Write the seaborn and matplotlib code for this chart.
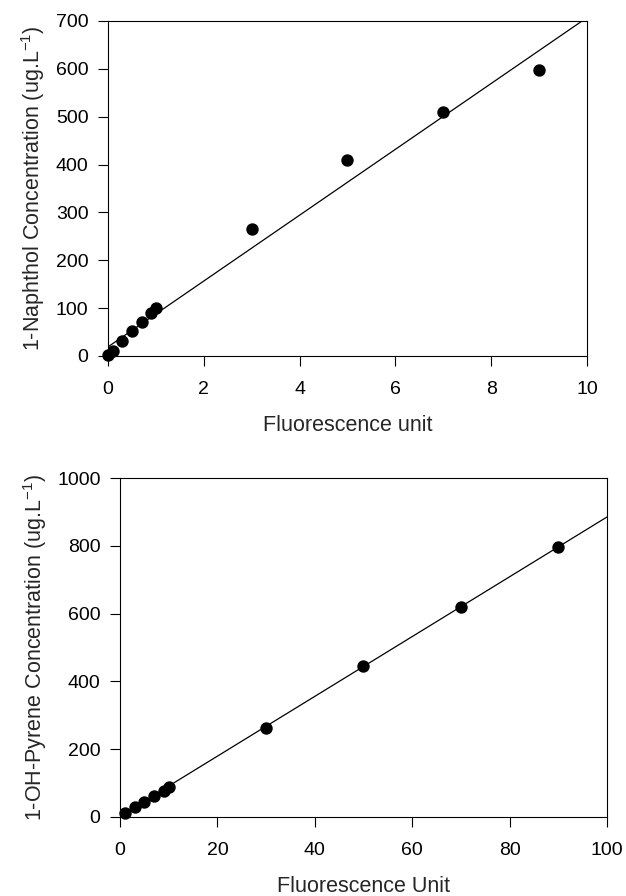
import numpy as np
import pandas as pd
import matplotlib
matplotlib.use("Agg")
import matplotlib.pyplot as plt
import seaborn as sns

# 1-Naphthol calibration
naph_x = [0, 0.1, 0.3, 0.5, 0.7, 0.9, 1, 3, 5, 7, 9]
naph_y = [2, 10, 32, 52, 70, 90, 100, 265, 410, 510, 598]
naph_fit = (19, 68.8)          # intercept, slope
naph_fit_x = [0, 10]

# 1-OH-Pyrene calibration
pyr_x = [1, 3, 5, 7, 9, 10, 30, 50, 70, 90]
pyr_y = [12, 28, 45, 62, 78, 88, 262, 445, 620, 797]
pyr_fit = (3, 8.82)
pyr_fit_x = [1, 100]


def main():
    sns.set_theme(style="ticks")
    plt.rcParams['font.family'] = ['Liberation Sans', 'DejaVu Sans']
    plt.rcParams['mathtext.fontset'] = 'custom'
    plt.rcParams['mathtext.rm'] = 'Liberation Sans'
    plt.rcParams['mathtext.it'] = 'Liberation Sans'

    fig = plt.figure(figsize=(6.26, 8.96), dpi=100)
    ax1 = fig.add_axes([0.1725, 0.6027, 0.7652, 0.3739])
    ax2 = fig.add_axes([0.1917, 0.0882, 0.7779, 0.3783])

    panels = [
        (ax1, naph_x, naph_y, naph_fit, naph_fit_x, (0, 10), (0, 700),
         np.arange(0, 11, 2), np.arange(0, 701, 100),
         'Fluorescence unit', '1-Naphthol Concentration (ug.L$^{-1}$)'),
        (ax2, pyr_x, pyr_y, pyr_fit, pyr_fit_x, (0, 100), (0, 1000),
         np.arange(0, 101, 20), np.arange(0, 1001, 200),
         'Fluorescence Unit', '1-OH-Pyrene Concentration (ug.L$^{-1}$)'),
    ]

    for ax, xs, ys, fit, fx, xlim, ylim, xt, yt, xl, yl in panels:
        df = pd.DataFrame({'x': xs, 'y': ys})
        line = pd.DataFrame({'x': fx})
        line['y'] = fit[0] + fit[1] * line['x']
        sns.lineplot(data=line, x='x', y='y', ax=ax, color='black', lw=0.9)
        sns.scatterplot(data=df, x='x', y='y', ax=ax, color='black', s=80,
                        edgecolor='black', linewidth=0, zorder=3, clip_on=False)
        ax.set_xlim(*xlim)
        ax.set_ylim(*ylim)
        ax.set_xticks(xt)
        ax.set_yticks(yt)
        ax.set_xlabel(xl, fontsize=15.5, labelpad=12)
        ax.set_ylabel(yl, fontsize=15.5, labelpad=6)
        ax.tick_params(axis='both', direction='out', length=7, width=0.8,
                       labelsize=14, color='black', labelcolor='black')
        ax.tick_params(axis='y', pad=7)
        ax.tick_params(axis='x', pad=11)
        for sp in ax.spines.values():
            sp.set_visible(True)
            sp.set_linewidth(0.8)
            sp.set_color('black')

    fig.savefig('out.png', dpi=100)
    plt.close(fig)


if __name__ == "__main__":
    main()
